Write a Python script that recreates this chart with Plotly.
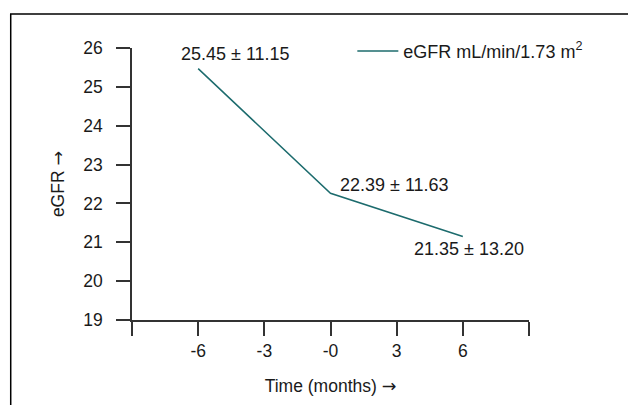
import plotly.graph_objects as go

# Data
months = [-6, 0, 6]
egfr = [25.47, 22.26, 21.15]
point_labels = ["25.45 ± 11.15", "22.39 ± 11.63", "21.35 ± 13.20"]
label_shift_x = [37, 64, 6]
label_shift_y = [15, 8, -13]

x_tickvals = [-6, -3, 0, 3, 6]
x_ticktext = ["-6", "-3", "-0", "3", "6"]
x_end_ticks = [-9, 9]
y_tickvals = [19, 20, 21, 22, 23, 24, 25, 26]

FONT = "Liberation Sans, Arial, sans-serif"
TXT = "#1a1a1a"
AX = "#333333"
LINE = "#1c6b6d"
ARROW = '<span style="font-family:DejaVu Sans">→</span>'

fig = go.Figure()
fig.add_trace(go.Scatter(
    x=months, y=egfr, mode="lines",
    line=dict(color=LINE, width=1.5),
    name="eGFR mL/min/1.73 m<sup>2</sup>",
))

for xv, yv, t, dx, dy in zip(months, egfr, point_labels, label_shift_x, label_shift_y):
    fig.add_annotation(x=xv, y=yv, text=t, showarrow=False,
                       xanchor="center", yanchor="middle",
                       xshift=dx, yshift=dy,
                       font=dict(size=18, color=TXT, family=FONT))

fig.add_shape(type="rect", xref="paper", yref="paper",
              x0=-0.3055, x1=1.5, y0=-0.5, y1=1.125,
              line=dict(color="black", width=1.5), fillcolor="rgba(0,0,0,0)")

fig.update_layout(
    width=628, height=405,
    margin=dict(l=132, r=99, t=48, b=85, autoexpand=False),
    paper_bgcolor="white", plot_bgcolor="white",
    font=dict(family=FONT, size=18, color=TXT),
    showlegend=True,
    legend=dict(x=0.555, y=1.056, xanchor="left", yanchor="top", itemwidth=41,
                bgcolor="rgba(0,0,0,0)", font=dict(size=18, color=TXT, family=FONT)),
    xaxis=dict(range=[-9, 9], tickvals=x_tickvals, ticktext=x_ticktext,
               ticks="outside", ticklen=14, tickwidth=1.5, tickcolor=AX,
               minor=dict(tickvals=x_end_ticks, ticks="outside", ticklen=14,
                          tickwidth=1.5, tickcolor=AX, showgrid=False),
               showline=True, linecolor=AX, linewidth=1.5,
               showgrid=False, zeroline=False, automargin=False,
               tickfont=dict(size=17.5, color=TXT),
               title=dict(text="Time (months) " + ARROW, font=dict(size=17.5, color=TXT), standoff=20)),
    yaxis=dict(range=[19, 26], tickvals=y_tickvals,
               ticks="outside", ticklen=14, tickwidth=1.5, tickcolor=AX,
               showline=True, linecolor=AX, linewidth=1.5,
               showgrid=False, zeroline=False, automargin=False,
               ticklabelstandoff=10,
               tickfont=dict(size=17.5, color=TXT),
               title=dict(text="eGFR " + ARROW, font=dict(size=17.5, color=TXT), standoff=14)),
)

fig.write_html("out.html", config={"displayModeBar": False},
               post_script="document.body.style.margin='0';document.body.style.overflow='hidden';")
